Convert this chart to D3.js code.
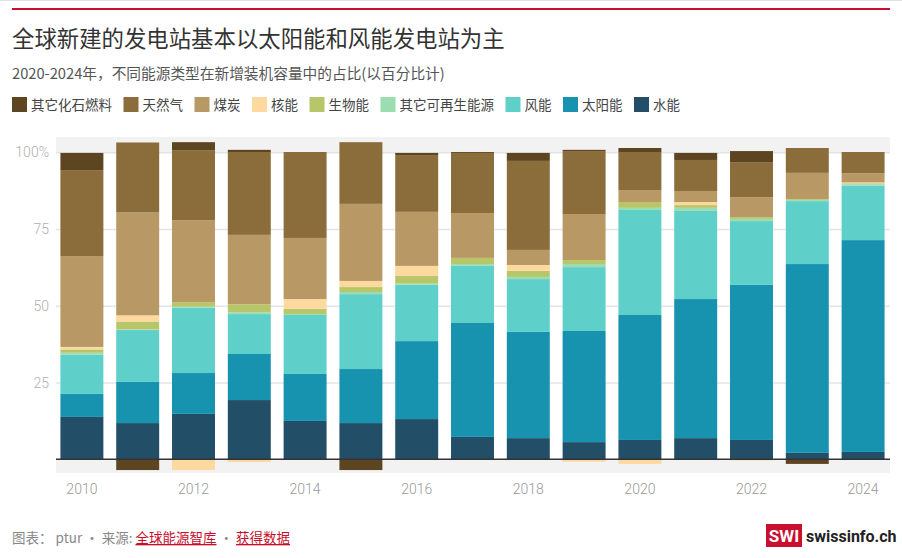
<!DOCTYPE html>
<html>
<head>
<meta charset="utf-8">
<script src="https://cdn.jsdelivr.net/npm/d3@7"></script>
<style>
  body { margin: 0; background: #fff; }
  svg { display: block; font-family: "Noto Sans CJK SC", "Noto Sans", sans-serif; }
</style>
</head>
<body>
<div id="chart"></div>
<script>
// values, share of added capacity in %
var years = [2010, 2011, 2012, 2013, 2014, 2015, 2016, 2017, 2018, 2019, 2020, 2021, 2022, 2023, 2024];
var hydro       = [13.8, 11.8, 14.8, 19.3, 12.5, 11.8, 13.1, 7.3, 6.9, 5.6, 6.3, 6.9, 6.3, 2.1, 2.4];
var solar       = [7.5, 13.4, 13.3, 15.0, 15.3, 17.6, 25.4, 37.1, 34.6, 36.2, 40.7, 45.3, 50.5, 61.5, 69.0];
var wind        = [12.8, 16.9, 21.3, 13.0, 19.2, 24.4, 18.4, 18.6, 17.2, 20.8, 34.2, 28.7, 20.8, 20.5, 17.8];
var otherRenew  = [0.6, 0.2, 0.3, 0.6, 0.3, 0.7, 0.3, 0.6, 0.7, 1.0, 0.7, 1.0, 0.7, 0.4, 0.4];
var bio         = [1.1, 2.6, 1.5, 2.6, 1.7, 1.6, 2.5, 2.0, 2.0, 1.3, 1.9, 0.9, 0.6, 0.3, 0.3];
var nuclear     = [0.8, 2.0, -3.5, -0.9, 3.2, 2.0, 3.3, 0, 1.9, -0.8, -1.5, 1.0, -0.4, 0, 0.3];
var coal        = [29.6, 33.5, 26.7, 22.6, 19.9, 25.1, 17.6, 14.6, 4.9, 15.0, 3.9, 3.6, 6.5, 8.5, 3.0];
var gas         = [28.0, 22.8, 22.8, 27.0, 28.0, 20.1, 18.5, 19.6, 29.0, 20.5, 12.4, 10.1, 11.4, 8.1, 6.9];
var otherFossil = [5.6, -3.5, 2.6, 0.7, 0, -3.5, 0.7, 0.3, 2.6, 0.4, 1.3, 2.3, 3.6, -1.5, 0];

var seriesNames = ["其它化石燃料", "天然气", "煤炭", "核能", "生物能", "其它可再生能源", "风能", "太阳能", "水能"];
var seriesKeys  = ["otherFossil", "gas", "coal", "nuclear", "bio", "otherRenew", "wind", "solar", "hydro"];
var seriesColors = ["#5c4520", "#8b6d3c", "#b89966", "#fdd9a0", "#b8c66a", "#9bdcb0", "#5ecfc9", "#1793b0", "#234e68"];
var yTicks = [25, 50, 75, 100];

var svgWidth = 902;
var svgHeight = 558;

var svg = d3.select("#chart")
    .append("svg")
    .attr("width", svgWidth)
    .attr("height", svgHeight);

// header
svg.append("line")
    .attr("x1", 0).attr("x2", svgWidth)
    .attr("y1", 0.5).attr("y2", 0.5)
    .attr("stroke", "#e2e2e2");
svg.append("rect")
    .attr("x", 12).attr("y", 8)
    .attr("width", 878).attr("height", 2)
    .attr("fill", "#c8102e");

svg.append("text")
    .attr("x", 12).attr("y", 47)
    .attr("font-size", "22.4px")
    .attr("fill", "#333")
    .text("全球新建的发电站基本以太阳能和风能发电站为主");

svg.append("text")
    .attr("x", 12).attr("y", 79)
    .attr("font-size", "14.7px")
    .attr("fill", "#555")
    .text("2020-2024年，不同能源类型在新增装机容量中的占比(以百分比计)");

// legend
var legend = svg.append("g");
var lx = 12;
seriesNames.forEach(function(name, i) {
    var item = legend.append("g").attr("transform", `translate(${lx}, 97)`);
    item.append("rect")
        .attr("width", 15).attr("height", 15)
        .attr("fill", seriesColors[i]);
    var t = item.append("text")
        .attr("x", 19).attr("y", 12.5)
        .attr("font-size", "13.5px")
        .attr("fill", "#444")
        .text(name);
    lx += 19 + t.node().getComputedTextLength() + 11.5;
});

// data table for the stack
var table = years.map(function(y, i) {
    return {
        year: y,
        hydro: hydro[i], solar: solar[i], wind: wind[i],
        otherRenew: otherRenew[i], bio: bio[i], nuclear: nuclear[i],
        coal: coal[i], gas: gas[i], otherFossil: otherFossil[i]
    };
});

var stackKeys = seriesKeys.slice().reverse(); // hydro at the bottom
var stacked = d3.stack()
    .keys(stackKeys)
    .offset(d3.stackOffsetDiverging)(table);

var color = d3.scaleOrdinal().domain(seriesKeys).range(seriesColors);

var plotL = 56, plotR = 890;

var x = d3.scaleBand()
    .domain(years)
    .range([54, 891])
    .paddingInner(0.23)
    .paddingOuter(0.115);

var y = d3.scaleLinear()
    .domain([0, 100])
    .range([459.3, 152.3]);

// grey strips outside 0..100
svg.append("rect")
    .attr("x", plotL).attr("y", 137)
    .attr("width", plotR - plotL).attr("height", y(100) - 137)
    .attr("fill", "#f2f2f2");
svg.append("rect")
    .attr("x", plotL).attr("y", y(0))
    .attr("width", plotR - plotL).attr("height", 473 - y(0))
    .attr("fill", "#f2f2f2");

var yAxis = svg.append("g")
    .attr("transform", `translate(${plotL}, 0)`)
    .call(d3.axisLeft(y)
        .tickValues(yTicks)
        .tickSize(-(plotR - plotL))
        .tickPadding(7)
        .tickFormat(function(d) { return d === 100 ? "100%" : d; }));
yAxis.select(".domain").remove();
yAxis.selectAll(".tick line").attr("stroke", "#e4e4e4").attr("stroke-width", 1.5);
yAxis.selectAll(".tick text")
    .attr("font-family", "Roboto, sans-serif")
    .attr("font-weight", 300)
    .attr("font-size", "14px")
    .attr("fill", "#b0b0b0");

var layers = svg.append("g")
    .selectAll("g")
    .data(stacked)
    .enter()
    .append("g")
    .attr("fill", function(d) { return color(d.key); });

layers.selectAll("rect")
    .data(function(d) { return d; })
    .enter()
    .append("rect")
    .attr("x", function(d) { return x(d.data.year); })
    .attr("width", x.bandwidth())
    .attr("y", function(d) { return y(Math.max(d[0], d[1])); })
    .attr("height", function(d) { return Math.abs(y(d[0]) - y(d[1])); });

svg.append("line")
    .attr("x1", plotL).attr("x2", plotR)
    .attr("y1", y(0)).attr("y2", y(0))
    .attr("stroke", "#333")
    .attr("stroke-width", 1.5);

var xAxis = svg.append("g")
    .attr("transform", `translate(0, 478)`)
    .call(d3.axisBottom(x)
        .tickValues(years.filter(function(d) { return d % 2 === 0; }))
        .tickSize(0)
        .tickPadding(6));
xAxis.select(".domain").remove();
xAxis.selectAll(".tick text")
    .attr("font-family", "Roboto, sans-serif")
    .attr("font-weight", 300)
    .attr("font-size", "14px")
    .attr("fill", "#999");

// footer
var foot = svg.append("text")
    .attr("x", 12).attr("y", 543)
    .attr("font-size", "13.5px")
    .attr("fill", "#888");
foot.append("tspan").text("图表： ptur • 来源: ");
foot.append("tspan").attr("fill", "#c8102e").attr("text-decoration", "underline").text("全球能源智库");
foot.append("tspan").text(" • ");
foot.append("tspan").attr("fill", "#c8102e").attr("text-decoration", "underline").text("获得数据");

svg.append("rect")
    .attr("x", 766).attr("y", 524)
    .attr("width", 36).attr("height", 23)
    .attr("fill", "#c8102e");
svg.append("text")
    .attr("x", 784).attr("y", 542)
    .attr("text-anchor", "middle")
    .attr("font-family", "Roboto, sans-serif")
    .attr("font-weight", 700)
    .attr("font-size", "17px")
    .attr("fill", "#fff")
    .text("SWI");
svg.append("text")
    .attr("x", 806).attr("y", 542)
    .attr("font-family", "Roboto, sans-serif")
    .attr("font-weight", 700)
    .attr("font-size", "16px")
    .attr("fill", "#222")
    .text("swissinfo.ch");
</script>
</body>
</html>
